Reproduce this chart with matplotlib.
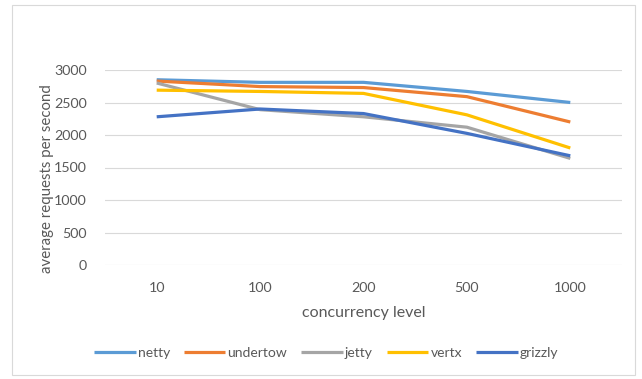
import matplotlib
matplotlib.use("Agg")
import matplotlib.pyplot as plt
from matplotlib.patches import Rectangle

# Throughput by concurrency level
levels = ["10", "100", "200", "500", "1000"]
netty = [2850, 2810, 2810, 2670, 2500]
undertow = [2830, 2745, 2730, 2590, 2200]
jetty = [2800, 2390, 2280, 2120, 1640]
vertx = [2690, 2670, 2640, 2310, 1800]
grizzly = [2280, 2400, 2330, 2025, 1680]

series = [
    ("netty", netty, "#5B9BD5"),
    ("undertow", undertow, "#ED7D31"),
    ("jetty", jetty, "#A5A5A5"),
    ("vertx", vertx, "#FFC000"),
    ("grizzly", grizzly, "#4472C4"),
]

plt.rcParams["font.family"] = ["Lato", "DejaVu Sans"]
text_color = "#595959"

W, H = 642, 379
fig = plt.figure(figsize=(W / 100, H / 100), dpi=100)
fig.patch.set_facecolor("white")

# outer chart frame
fig.patches.append(Rectangle((12 / W, 4 / H), (635 - 12) / W, (374 - 4) / H,
                             transform=fig.transFigure, fill=False,
                             edgecolor="#D9D9D9", linewidth=0.8))

left, right = 105, 622
top, bottom = 70, 265
ax = fig.add_axes([left / W, 1 - bottom / H, (right - left) / W, (bottom - top) / H])

x = list(range(len(levels)))
for name, vals, color in series:
    ax.plot(x, vals, color=color, linewidth=2.3, label=name, solid_capstyle="butt")

ax.set_xlim(-0.5, len(levels) - 0.5)
ax.set_ylim(0, 3000)
ax.set_yticks(range(0, 3001, 500))
ax.set_xticks(x)
ax.set_xticklabels(levels)
ax.grid(axis="y", color="#D9D9D9", linewidth=0.8)
ax.set_axisbelow(True)
for s in ax.spines.values():
    s.set_visible(False)
ax.tick_params(length=0, labelsize=10.3, colors=text_color, pad=13)
ax.tick_params(axis="x", pad=12)

fig.text(47 / W, 1 - 179 / H, "average requests per second", rotation=90,
         ha="center", va="center", fontsize=10.8, color=text_color)
fig.text(364 / W, 1 - 313 / H, "concurrency level", ha="center", va="center",
         fontsize=11.5, color=text_color)

leg = fig.legend(loc="center", bbox_to_anchor=(326 / W, 1 - 353 / H), ncol=5,
                 frameon=False, fontsize=10, handlelength=3.0, handletextpad=0.15,
                 columnspacing=1.0)
for t in leg.get_texts():
    t.set_color(text_color)

fig.savefig("out.png", dpi=100)
